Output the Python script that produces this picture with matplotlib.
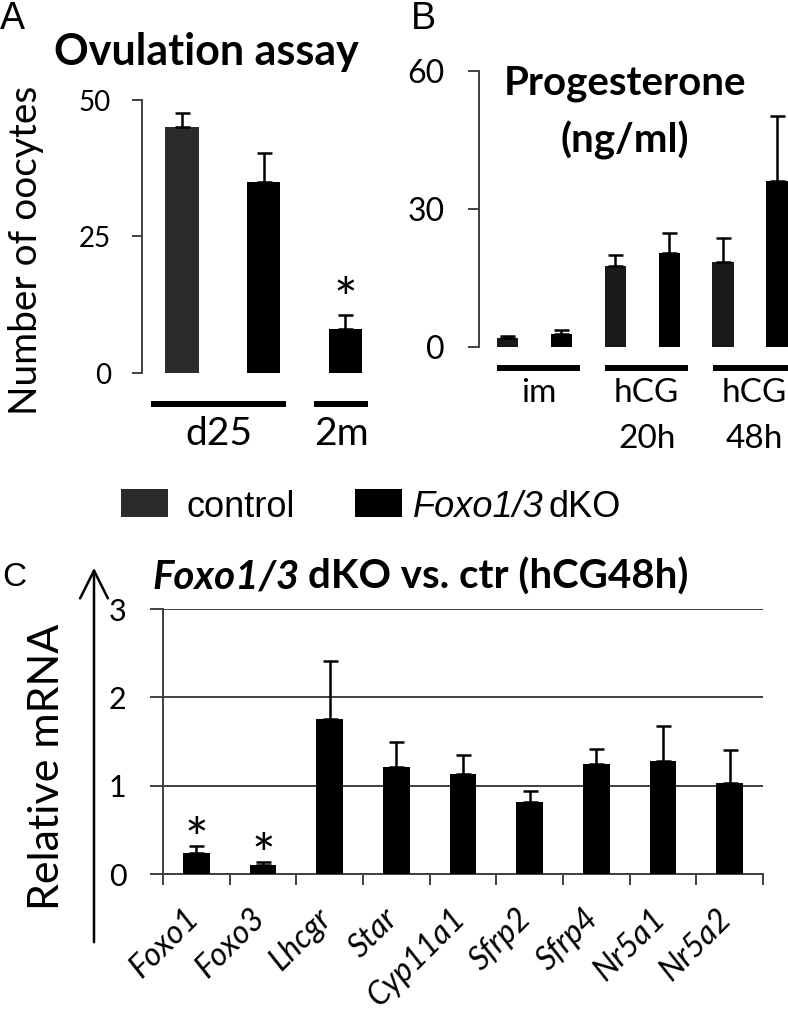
import matplotlib
matplotlib.use('Agg')
import matplotlib.pyplot as plt
import matplotlib.transforms as mtransforms
from matplotlib.patches import Rectangle, FancyArrowPatch
import numpy as np

# ---- datos ----
# A: ensayo de ovulacion
ovul_mean = [45, 35, 8]
ovul_err = [2.6, 5.3, 2.6]
ovul_geno = ['control', 'dKO', 'dKO']
ovul_age = ['d25', 'd25', '2m']
ovul_sig = [False, False, True]
ovul_ticks = [0, 25, 50]

# B: progesterona
prog_groups = ['im', 'hCG\n20h', 'hCG\n48h']
prog_ctrl = [2.0, 17.6, 18.4]
prog_ctrl_err = [0.3, 2.4, 5.4]
prog_dko = [2.8, 20.4, 36.1]
prog_dko_err = [0.9, 4.4, 14.1]
prog_ticks = [0, 30, 60]

# C: qPCR
genes = ['Foxo1', 'Foxo3', 'Lhcgr', 'Star', 'Cyp11a1', 'Sfrp2', 'Sfrp4', 'Nr5a1', 'Nr5a2']
mrna = [0.24, 0.10, 1.75, 1.21, 1.13, 0.815, 1.245, 1.28, 1.03]
mrna_err = [0.08, 0.04, 0.66, 0.28, 0.22, 0.125, 0.17, 0.39, 0.37]
mrna_sig = [True, True, False, False, False, False, False, False, False]
mrna_ticks = [0, 1, 2, 3]

legend_labels = ['control', 'Foxo1/3', 'dKO']

# ---- estilo ----
W, H = 788, 1013
plt.rcParams['font.family'] = ['Lato', 'DejaVu Sans']
CTRL_A = '#2b2b2b'
CTRL_B = '#1a1a1a'
DKO = '#000000'
AXC = '#404040'

fig = plt.figure(figsize=(W / 100, H / 100), dpi=100)


def ax_px(left, top, right, bottom):
    return fig.add_axes([left / W, 1 - bottom / H, (right - left) / W, (bottom - top) / H])


def err_up(ax, x, y, e):
    ax.errorbar(x, y, yerr=[np.zeros(len(e)), e], fmt='none', ecolor='black',
                elinewidth=1.8, capsize=5.4, capthick=1.8, clip_on=False)


def style_left(ax, ticks, size, pad, length):
    for s in ['top', 'right', 'bottom']:
        ax.spines[s].set_visible(False)
    ax.spines['left'].set_color(AXC)
    ax.spines['left'].set_linewidth(1.4)
    ax.set_yticks(ticks)
    ax.set_xticks([])
    ax.tick_params(axis='y', direction='out', length=length, width=1.4, color=AXC,
                   labelsize=size, pad=pad)


def star(ax, x, y, dy):
    ax.annotate('*', xy=(x, y), xytext=(0, dy), textcoords='offset points',
                ha='center', va='baseline', fontsize=40)


# ---- panel A ----
ax_a = ax_px(142, 100, 386, 373)
pos_a = np.arange(len(ovul_mean))
col_a = [CTRL_A if g == 'control' else DKO for g in ovul_geno]
ax_a.bar(pos_a, ovul_mean, width=0.405, color=col_a)
err_up(ax_a, pos_a, ovul_mean, ovul_err)
ax_a.set_xlim(-0.49, 2.5)
ax_a.set_ylim(0, 50)
style_left(ax_a, ovul_ticks, 20, 15, 7.2)
for i in range(len(ovul_mean)):
    if ovul_sig[i]:
        star(ax_a, pos_a[i], ovul_mean[i] + ovul_err[i], -2)
for age in dict.fromkeys(ovul_age):
    idx = [i for i, a in enumerate(ovul_age) if a == age]
    x0, x1 = pos_a[idx[0]] - 0.38, pos_a[idx[-1]] + 0.28
    ax_a.plot([x0, x1], [-5.7, -5.7], color='black', lw=4.3, solid_capstyle='butt', clip_on=False)
    ax_a.text((x0 + x1) / 2, -13.2, age, ha='center', va='baseline', fontsize=28)
ax_a.set_ylabel('Number of oocytes', fontsize=28)
ax_a.yaxis.set_label_coords(-98 / 244, 0.45)
fig.text(206 / W, 1 - 52 / H, 'Ovulation assay', ha='center', va='center',
         fontsize=31, fontweight='bold')
fig.text(0, 1 - 1 / H, 'A', ha='left', va='top', fontsize=27, family='Liberation Sans')

# ---- panel B ----
ax_b = ax_px(479, 71, 831, 347)
ng = len(prog_groups)
pos_c0 = np.arange(ng) * 2
pos_d0 = pos_c0 + 1
ax_b.bar(pos_c0, prog_ctrl, width=0.39, color=CTRL_B)
ax_b.bar(pos_d0, prog_dko, width=0.39, color=DKO)
err_up(ax_b, pos_c0, prog_ctrl, prog_ctrl_err)
err_up(ax_b, pos_d0, prog_dko, prog_dko_err)
ax_b.set_xlim(-0.52, 6.0)
ax_b.set_ylim(0, 60)
style_left(ax_b, prog_ticks, 23, 17, 7.9)
for g, lab in enumerate(prog_groups):
    mid = (pos_c0[g] + pos_d0[g]) / 2
    ax_b.plot([mid - 0.69, mid + 0.86], [-4.57, -4.57], color='black', lw=4.3,
              solid_capstyle='butt', clip_on=False)
    for k, line in enumerate(lab.split('\n')):
        ax_b.text(mid + 0.085, -11.96 - 10.0 * k, line, ha='center', va='baseline', fontsize=24)
fig.text(625 / W, 1 - 83 / H, 'Progesterone', ha='center', va='center',
         fontsize=29, fontweight='bold')
fig.text(625 / W, 1 - 140 / H, '(ng/ml)', ha='center', va='center',
         fontsize=29, fontweight='bold')
fig.text(411 / W, 1 - 1 / H, 'B', ha='left', va='top', fontsize=27, family='Liberation Sans')

# ---- leyenda ----
fig.add_artist(Rectangle((121 / W, 1 - 517 / H), 47 / W, 28 / H, transform=fig.transFigure,
                         facecolor=CTRL_A, edgecolor='none'))
fig.add_artist(Rectangle((355 / W, 1 - 517 / H), 47 / W, 28 / H, transform=fig.transFigure,
                         facecolor=DKO, edgecolor='none'))
fig.text(187 / W, 1 - 517 / H, legend_labels[0], ha='left', va='baseline', fontsize=26,
         family='Liberation Sans')
rend = fig.canvas.get_renderer()
t1 = fig.text(413 / W, 1 - 517 / H, legend_labels[1], ha='left', va='baseline', fontsize=26,
              family='Liberation Sans', style='italic')
x_end = t1.get_window_extent(renderer=rend).x1
fig.text((x_end + 5) / W, 1 - 517 / H, legend_labels[2], ha='left', va='baseline', fontsize=26,
         family='Liberation Sans')

# ---- panel C ----
ax_c = ax_px(163, 609, 763, 874)
pos_c = np.arange(len(genes))
ax_c.bar(pos_c, mrna, width=0.4, color=DKO, zorder=3)
ax_c.errorbar(pos_c, mrna, yerr=[np.zeros(len(mrna)), mrna_err], fmt='none', ecolor='black',
              elinewidth=1.8, capsize=5.4, capthick=1.8, zorder=3)
ax_c.set_xlim(-0.5, len(genes) - 0.5)
ax_c.set_ylim(0, 3)
for s in ['top', 'right']:
    ax_c.spines[s].set_visible(False)
for s in ['left', 'bottom']:
    ax_c.spines[s].set_color(AXC)
    ax_c.spines[s].set_linewidth(1.4)
ax_c.set_yticks(mrna_ticks)
ax_c.yaxis.grid(True, color=AXC, lw=1.4)
ax_c.set_axisbelow(True)
ax_c.tick_params(axis='y', direction='out', length=9.4, width=1.4, color=AXC, labelsize=22, pad=17)
ax_c.set_xticks(pos_c)
ax_c.set_xticks(np.arange(len(genes) + 1) - 0.5, minor=True)
ax_c.tick_params(axis='x', which='minor', direction='out', length=8, width=1.4, color=AXC)
ax_c.tick_params(axis='x', which='major', length=0, pad=21)
ax_c.set_xticklabels(genes, rotation=45, ha='right', fontstyle='italic', fontsize=23)
shift = mtransforms.ScaledTranslation(8 / 100, 0, fig.dpi_scale_trans)
for lab in ax_c.get_xticklabels():
    lab.set_transform(lab.get_transform() + shift)
for i in range(len(genes)):
    if mrna_sig[i]:
        star(ax_c, pos_c[i], mrna[i] + mrna_err[i], -9)

# eje con flecha y titulo
fig.add_artist(FancyArrowPatch(
    (94 / W, 1 - 945 / H), (94 / W, 1 - 565 / H), transform=fig.transFigure,
    arrowstyle='->,head_length=1.0,head_width=0.5', mutation_scale=20, lw=1.8, color='black'))
fig.text(47 / W, 1 - 767 / H, 'Relative mRNA', rotation=90, ha='center', va='center', fontsize=31)
fig.text(2 / W, 1 - 578 / H, 'C', ha='left', va='center', fontsize=24, family='Liberation Sans')
t2 = fig.text(152 / W, 1 - 577 / H, 'Foxo1/3', ha='left', va='center', fontsize=29,
              fontweight='bold', style='italic')
x_end = t2.get_window_extent(renderer=rend).x1
fig.text((x_end + 9) / W, 1 - 577 / H, 'dKO vs. ctr (hCG48h)', ha='left', va='center',
         fontsize=29, fontweight='bold')

fig.savefig('out.png', dpi=100)
